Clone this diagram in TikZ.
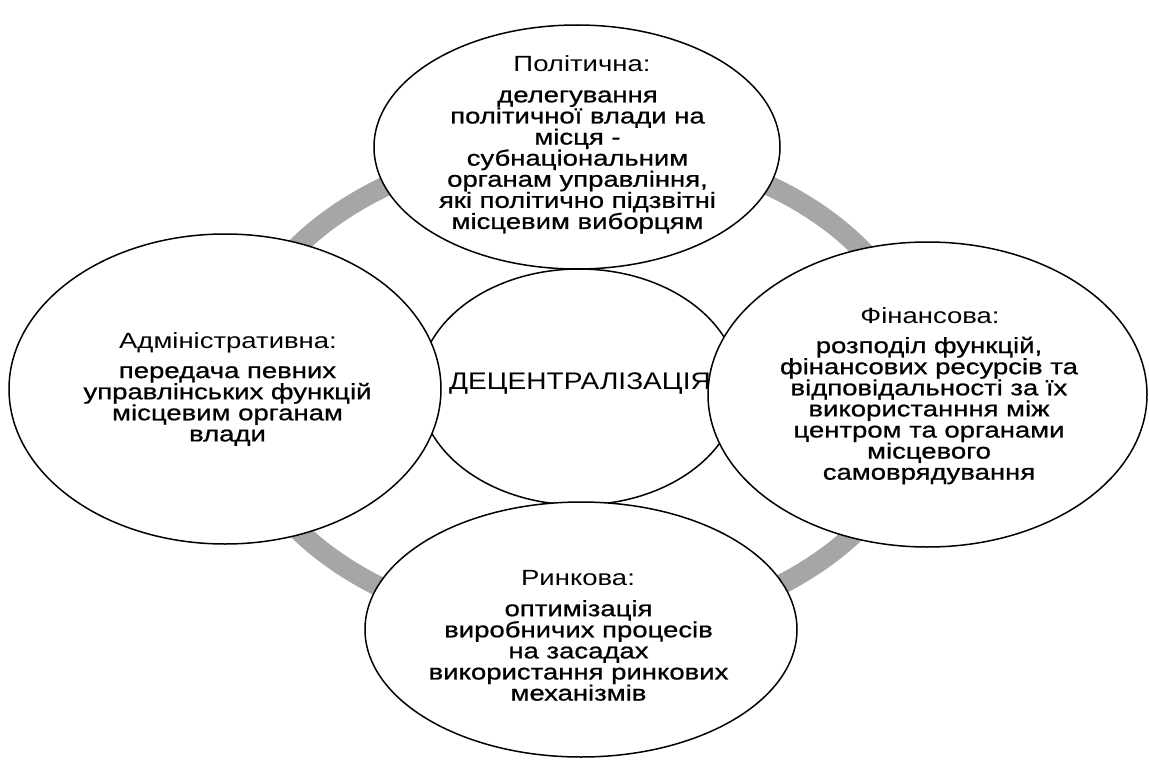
\documentclass[tikz,border=0pt]{standalone}
\usepackage{fontspec}
\setmainfont{Liberation Sans}[FakeStretch=1.25]
\newfontfamily\bodyf{Liberation Sans}[FakeStretch=1.25,FakeBold=0.8]
\newfontfamily\headf{Liberation Sans}[FakeStretch=1.25]
\newfontfamily\centf{Liberation Sans}[FakeStretch=1.17]
\usetikzlibrary{shapes.geometric}
\definecolor{ringgray}{RGB}{166,166,166}
\begin{document}
\begin{tikzpicture}[x=1pt,y=-1pt,
  bubble/.style={ellipse, draw=black, fill=white, line width=1.5pt, inner sep=0pt},
  headtxt/.style={align=center, inner sep=0pt, font=\headf\fontsize{22}{22}\selectfont},
  bodytxt/.style={align=center, inner sep=0pt, font=\bodyf\fontsize{22}{21.1}\selectfont}]
\useasboundingbox (0,0) rectangle (1149,760);
% ring
\node[ellipse, draw=ringgray, line width=20pt, minimum width=690pt, minimum height=486pt] (ring) at (578,388) {};
% centre
\node[bubble, minimum width=320pt, minimum height=236pt] (cen) at (579,387) {};
\node[inner sep=0pt, font=\centf\fontsize{24}{24}\selectfont] (centxt) at (580,384) {ДЕЦЕНТРАЛІЗАЦІЯ};
% top
\node[bubble, minimum width=406pt, minimum height=244pt] (pol) at (577,147) {};
\node[headtxt] (polh) at (582,64) {Політична:};
\node[bodytxt] (polb) at (577.5,162) {делегування\\політичної влади на\\місця -\\субнаціональним\\органам управління,\\які політично підзвітні\\місцевим виборцям};
% left
\node[bubble, minimum width=432pt, minimum height=310pt] (adm) at (225,389) {};
\node[headtxt] (admh) at (228,343) {Адміністративна:};
\node[bodytxt] (admb) at (227.5,406) {передача певних\\управлінських функцій\\місцевим органам\\влади};
% bottom
\node[bubble, minimum width=432pt, minimum height=255pt] (rin) at (581,629.5) {};
\node[headtxt] (rinh) at (578,578) {Ринкова:};
\node[bodytxt] (rinb) at (578.5,650.5) {оптимізація\\виробничих процесів\\на засадах\\використання ринкових\\механізмів};
% right
\node[bubble, minimum width=439pt, minimum height=305pt] (fin) at (927.5,394.5) {};
\node[headtxt] (finh) at (930,316) {Фінансова:};
\node[bodytxt] (finb) at (929,410.5) {розподіл функцій,\\фінансових ресурсів та\\відповідальності за їх\\використанння між\\центром та органами\\місцевого\\самоврядування};
\end{tikzpicture}
\end{document}
